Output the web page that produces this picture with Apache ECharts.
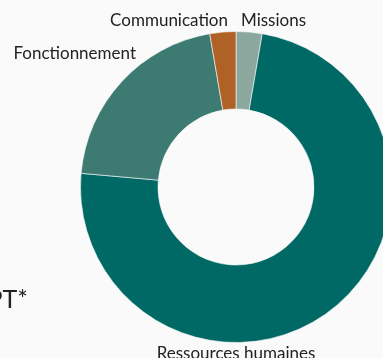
<!DOCTYPE html>
<html>
<head>
<meta charset="utf-8">
<script src="https://cdn.jsdelivr.net/npm/echarts@6/dist/echarts.min.js"></script>
<style>
html,body{margin:0;padding:0;background:#fafafa;}
#chart{width:383px;height:358px;}
</style>
</head>
<body>
<div id="chart"></div>
<script>
const categories = ['Missions', 'Ressources humaines', 'Fonctionnement', 'Communication'];
const values = [2.7, 73.7, 20.9, 2.7];
const colors = ['#8ca79e', '#006966', '#3d7a72', '#b06125'];
const sideText = 'ETPT*';

const labelPos = [
  {x: 241, y: 21, align: 'left'},
  {x: 236, y: 354, align: 'center'},
  {x: 136, y: 54, align: 'right'},
  {x: 228, y: 21, align: 'right'}
];

const chart = echarts.init(document.getElementById('chart'), null, {renderer: 'canvas'});
chart.setOption({
  backgroundColor: '#fafafa',
  animation: false,
  graphic: [{
    type: 'text',
    right: 383 - 28,
    top: 287,
    style: {text: sideText, font: '400 25px Lato', fill: '#222', textAlign: 'right'}
  }],
  series: [{
    type: 'pie',
    center: [236, 187],
    radius: [78, 155.5],
    startAngle: 90,
    clockwise: true,
    avoidLabelOverlap: false,
    itemStyle: {borderColor: '#fafafa', borderWidth: 0.6},
    label: {
      show: true,
      position: 'outside',
      alignTo: 'none',
      overflow: 'none',
      formatter: '{b}',
      fontFamily: 'Lato',
      fontSize: 17,
      color: '#222'
    },
    labelLine: {show: false},
    labelLayout: function (p) {
      const lp = labelPos[p.dataIndex];
      return {x: lp.x, y: lp.y, align: lp.align, verticalAlign: 'middle', hideOverlap: false, moveOverlap: null};
    },
    data: categories.map((c, i) => ({name: c, value: values[i], itemStyle: {color: colors[i]}}))
  }]
});
</script>
</body>
</html>
